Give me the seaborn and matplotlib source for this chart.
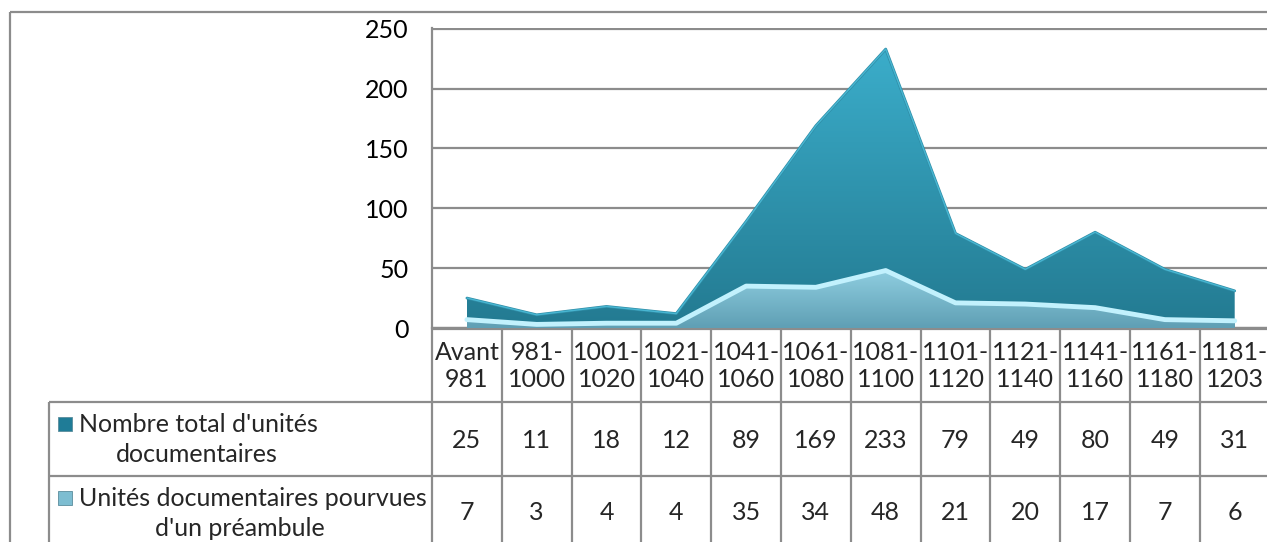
import numpy as np
import matplotlib
matplotlib.use("Agg")
import matplotlib.pyplot as plt
from matplotlib.colors import LinearSegmentedColormap
from matplotlib.patches import Rectangle
import seaborn as sns

# data
periods = ["Avant\n981", "981-\n1000", "1001-\n1020", "1021-\n1040", "1041-\n1060", "1061-\n1080",
           "1081-\n1100", "1101-\n1120", "1121-\n1140", "1141-\n1160", "1161-\n1180", "1181-\n1203"]
total_units = [25, 11, 18, 12, 89, 169, 233, 79, 49, 80, 49, 31]
with_preamble = [7, 3, 4, 4, 35, 34, 48, 21, 20, 17, 7, 6]
series_names = ["Nombre total d'unités\ndocumentaires",
                "Unités documentaires pourvues\nd'un préambule"]
y_ticks = [0, 50, 100, 150, 200, 250]

sns.set_theme(style="white")
plt.rcParams["font.family"] = ["Lato", "DejaVu Sans"]

W, H, DPI = 1267, 542, 100
FS = 18
GRID = "#8C8C8C"

# layout in pixels
plot_left, col_w = 432, 69.8
plot_top, plot_bottom = 28, 328
row_lines = [329, 402, 476]

fig = plt.figure(figsize=(W / DPI, H / DPI), dpi=DPI)
fig.patch.set_facecolor("white")

ax = fig.add_axes([plot_left / W, 1 - plot_bottom / H,
                   12 * col_w / W, (plot_bottom - plot_top) / H])
xs = np.arange(len(periods))


def gradient_area(ax, x, y, bottom_color, top_color, zorder):
    poly = ax.fill_between(x, 0, y, color="none", lw=0, zorder=zorder)
    cmap = LinearSegmentedColormap.from_list("g", [bottom_color, top_color])
    grad = np.linspace(0, 1, 256).reshape(-1, 1)
    im = ax.imshow(grad, cmap=cmap, aspect="auto", origin="lower",
                   extent=[x[0], x[-1], 0, max(y)], zorder=zorder)
    im.set_clip_path(poly.get_paths()[0], transform=ax.transData)


gradient_area(ax, xs, total_units, "#237A91", "#3BADCA", 2)
sns.lineplot(x=xs, y=total_units, color="#2F8DA6", lw=2, ax=ax, zorder=3)
sns.lineplot(x=xs, y=total_units, color="#48B6D2", lw=1, ax=ax, zorder=3)
gradient_area(ax, xs, with_preamble, "#5F9FB4", "#8FCEE0", 4)
sns.lineplot(x=xs, y=with_preamble, color="#C2F1FD", lw=3.5, ax=ax, zorder=5)

ax.set_xlim(-0.5, 11.5)
ax.set_ylim(0, 250.6)
ax.set_yticks(y_ticks)
ax.set_xticks([])
ax.grid(axis="y", color=GRID, lw=1.6, zorder=0)
ax.set_axisbelow(True)
ax.tick_params(axis="y", length=0, pad=17, labelsize=FS, labelcolor="black")
for s in ["top", "right"]:
    ax.spines[s].set_visible(False)
for s in ["left", "bottom"]:
    ax.spines[s].set_color(GRID)
    ax.spines[s].set_linewidth(1.6)
ax.set_xlabel("")
ax.set_ylabel("")
ax.set_facecolor("none")

# overlay in pixel coordinates for the data table and chart border
ov = fig.add_axes([0, 0, 1, 1], zorder=-1)
ov.set_xlim(0, W)
ov.set_ylim(H, 0)
ov.axis("off")
lk = dict(color=GRID, lw=1.6, solid_capstyle="butt")

ov.plot([10, 10], [12, H], **lk)
ov.plot([10, W], [12, 12], **lk)

edges = [plot_left + i * col_w for i in range(len(periods) + 1)]
ov.plot([plot_left, W], [row_lines[0]] * 2, **lk)
ov.plot([49, W], [row_lines[1]] * 2, **lk)
ov.plot([49, W], [row_lines[2]] * 2, **lk)
ov.plot([49, 49], [row_lines[1], H], **lk)
for e in edges:
    ov.plot([e, e], [row_lines[0], H], **lk)

centers = [(edges[i] + edges[i + 1]) / 2 for i in range(len(periods))]
for c, lab in zip(centers, periods):
    ov.text(c, 366, lab, ha="center", va="center", fontsize=FS, linespacing=1.25)
for c, v1, v2 in zip(centers, total_units, with_preamble):
    ov.text(c, 440, str(v1), ha="center", va="center", fontsize=FS)
    ov.text(c, 513, str(v2), ha="center", va="center", fontsize=FS)

marker_colors = ["#1F7C97", "#7DBDD1"]
row_mid = [424, 498]
line2_center = [197, 240]
for name, col, ym, c2 in zip(series_names, marker_colors, row_mid, line2_center):
    first, second = name.split("\n")
    ov.add_patch(Rectangle((58, ym - 7), 14, 14, facecolor=col, edgecolor="#5A8C9C", lw=0.6))
    ov.text(79, ym, first, ha="left", va="center", fontsize=FS)
    ov.text(c2, ym + 30, second, ha="center", va="center", fontsize=FS)

fig.savefig("out.png", dpi=DPI)
